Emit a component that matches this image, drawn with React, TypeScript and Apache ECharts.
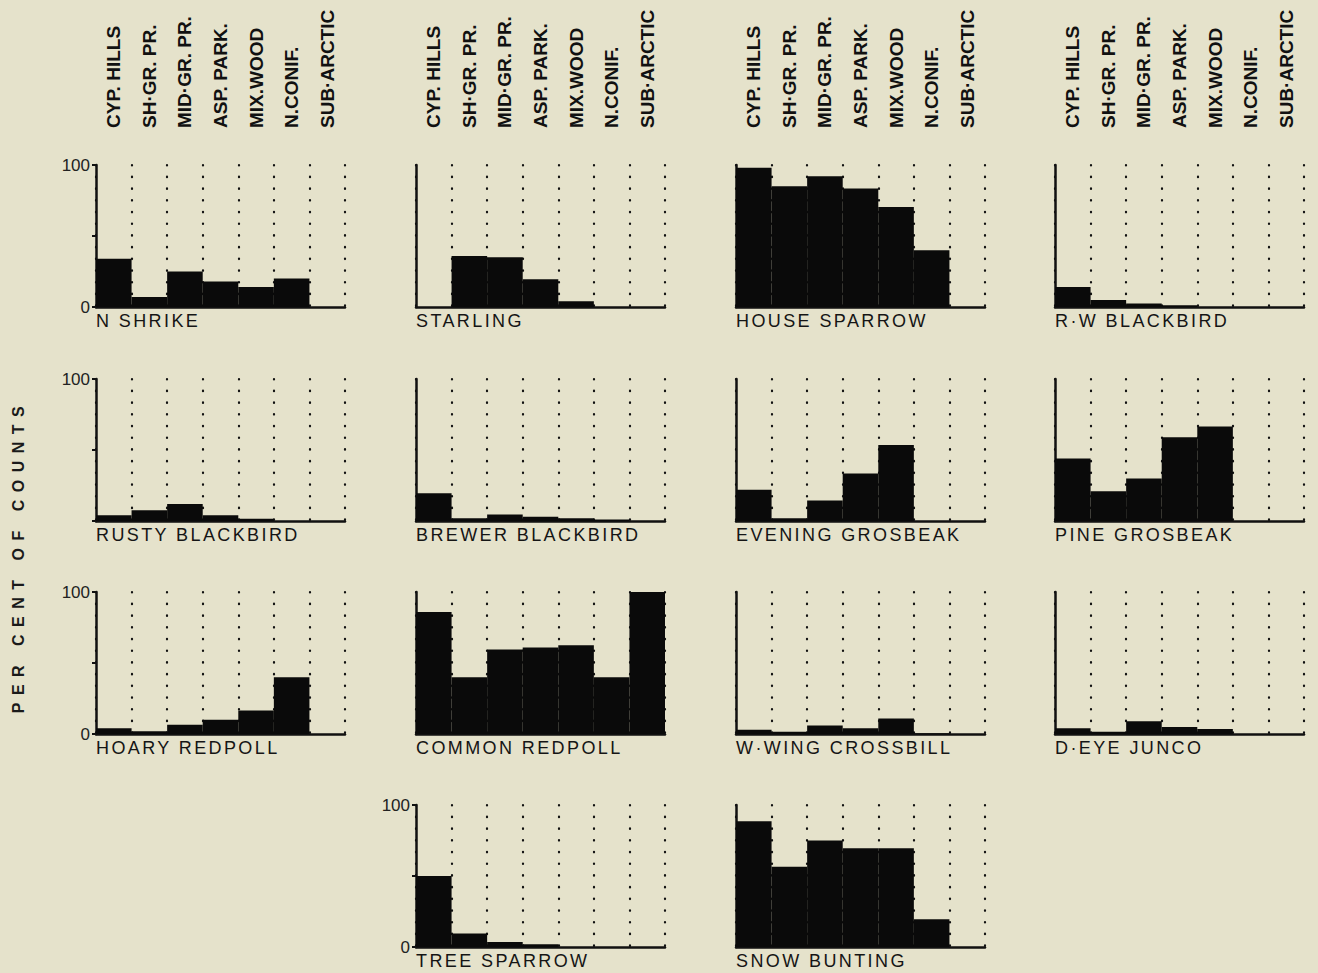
import React, { useEffect, useRef } from "react";
import * as echarts from "echarts";

// ---- data ----
const categories = [
  "CYP. HILLS",
  "SH·GR. PR.",
  "MID·GR. PR.",
  "ASP. PARK.",
  "MIX.WOOD",
  "N.CONIF.",
  "SUB·ARCTIC",
];

const nShrike = [34, 7, 25, 18, 14, 20, 0];
const starling = [0, 36, 35, 19.5, 4, 0, 0];
const houseSparrow = [98, 85, 92, 83.5, 70.5, 40, 0];
const rwBlackbird = [14, 5, 2.5, 1.2, 0, 0, 0];
const rustyBlackbird = [4, 7.5, 12, 4, 1.5, 0, 0];
const brewerBlackbird = [19.5, 2, 4.5, 3, 2, 1, 0];
const eveningGrosbeak = [22, 2, 14.5, 33.5, 53.5, 0, 0];
const pineGrosbeak = [44, 21, 30, 59, 66.5, 0, 0];
const hoaryRedpoll = [4, 2, 6.5, 10, 16.5, 40, 0];
const commonRedpoll = [86, 40, 59.5, 61, 62.5, 40, 100];
const wwCrossbill = [3, 1.5, 6, 4, 11, 0.5, 0];
const deJunco = [4, 1.5, 9, 5, 3.5, 0, 0];
const treeSparrow = [50, 9.5, 3.5, 2, 0, 0, 0];
const snowBunting = [88.5, 56.5, 75, 69.5, 69.5, 19.5, 0];

const speciesNames = [
  "N SHRIKE",
  "STARLING",
  "HOUSE SPARROW",
  "R·W BLACKBIRD",
  "RUSTY BLACKBIRD",
  "BREWER BLACKBIRD",
  "EVENING GROSBEAK",
  "PINE GROSBEAK",
  "HOARY REDPOLL",
  "COMMON REDPOLL",
  "W·WING CROSSBILL",
  "D·EYE JUNCO",
  "TREE SPARROW",
  "SNOW BUNTING",
];

const speciesValues = [
  nShrike, starling, houseSparrow, rwBlackbird,
  rustyBlackbird, brewerBlackbird, eveningGrosbeak, pineGrosbeak,
  hoaryRedpoll, commonRedpoll, wwCrossbill, deJunco,
  treeSparrow, snowBunting,
];

const yTickLabels = ["0", "100"];
const yTitle = "PER CENT OF COUNTS";

// ---- layout ----
const COLS_X = [96, 416, 736, 1055];
const ROWS_Y = [165, 379, 592, 805];
const PANEL_W = 249;
const PANEL_H = 142;
// [row, col, yLabelMode]
const PANEL_POS: [number, number, string][] = [
  [0, 0, "both"], [0, 1, "none"], [0, 2, "none"], [0, 3, "none"],
  [1, 0, "top"], [1, 1, "none"], [1, 2, "none"], [1, 3, "none"],
  [2, 0, "both"], [2, 1, "none"], [2, 2, "none"], [2, 3, "none"],
  [3, 1, "both"], [3, 2, "none"],
];

const FONT = '"Liberation Sans", Arial, Helvetica, sans-serif';
const INK = "#111111";
const BG = "#e5e2cb";

export default function App() {
  const ref = useRef<HTMLDivElement>(null);

  useEffect(() => {
    if (!ref.current) return;
    const chart = echarts.init(ref.current, undefined, { renderer: "svg" });

    const grid: any[] = [];
    const xAxis: any[] = [];
    const yAxis: any[] = [];
    const series: any[] = [];
    const title: any[] = [];

    PANEL_POS.forEach(([r, c, mode], i) => {
      const left = COLS_X[c];
      const top = ROWS_Y[r];
      grid.push({ left, top, width: PANEL_W, height: PANEL_H, containLabel: false });

      const xi = xAxis.length;
      xAxis.push({
        type: "category",
        gridIndex: i,
        data: categories,
        boundaryGap: true,
        position: "bottom",
        axisLine: { show: true, lineStyle: { color: INK, width: 2.5 } },
        axisTick: { show: false },
        axisLabel: { show: false },
        splitLine: {
          show: true,
          interval: 0,
          lineStyle: { color: INK, width: 2.2, type: [0.5, 11.2], cap: "round" },
        },
      });
      if (r === 0) {
        xAxis.push({
          type: "category",
          gridIndex: i,
          data: categories,
          boundaryGap: true,
          position: "top",
          axisLine: { show: false },
          axisTick: { show: false },
          splitLine: { show: false },
          axisLabel: {
            show: true,
            interval: 0,
            rotate: -90,
            margin: 37,
            fontSize: 19,
            fontWeight: "bold",
            color: INK,
            fontFamily: FONT,
          },
        });
      }

      const labeled = mode !== "none";
      yAxis.push({
        type: "value",
        gridIndex: i,
        min: 0,
        max: 100,
        interval: 50,
        axisLine: { show: true, lineStyle: { color: INK, width: 2.5 } },
        axisTick: { show: labeled, length: 4, lineStyle: { color: INK, width: 2 } },
        splitLine: { show: false },
        axisLabel: {
          show: labeled,
          margin: 6,
          fontSize: 17,
          color: "#222",
          fontFamily: FONT,
          formatter: (v: number) => {
            if (v === 100) return yTickLabels[1];
            if (v === 0 && mode === "both") return yTickLabels[0];
            return "";
          },
        },
      });

      series.push({
        type: "bar",
        xAxisIndex: xi,
        yAxisIndex: i,
        data: speciesValues[i],
        barCategoryGap: "0%",
        barWidth: "100%",
        itemStyle: { color: "#0a0a0a" },
        silent: true,
      });

      title.push({
        text: speciesNames[i],
        left,
        top: top + PANEL_H + 5,
        padding: 0,
        textStyle: { fontSize: 18, fontWeight: "normal", color: "#151515", fontFamily: FONT },
      });
    });

    chart.setOption({
      animation: false,
      backgroundColor: BG,
      textStyle: { fontFamily: FONT },
      grid,
      xAxis,
      yAxis,
      series,
      title,
      graphic: [
        {
          type: "text",
          x: 18,
          y: 556,
          rotation: Math.PI / 2,
          style: {
            text: yTitle,
            fontSize: 16,
            fontWeight: "bold",
            fontFamily: FONT,
            fill: "#1a1a1a",
            textAlign: "center",
            textVerticalAlign: "middle",
          },
        },
      ],
    });

    const applySpacing = () => {
      const el = ref.current;
      if (!el) return;
      el.querySelectorAll("text").forEach((t) => {
        const s = (t.textContent || "").trim();
        if (s === yTitle) t.setAttribute("letter-spacing", "7.5");
        else if (speciesNames.includes(s)) t.setAttribute("letter-spacing", "2.4");
      });
    };
    chart.on("finished", applySpacing);
    const timer = setTimeout(applySpacing, 50);

    return () => {
      clearTimeout(timer);
      chart.dispose();
    };
  }, []);

  return (
    <div
      ref={ref}
      style={{ position: "fixed", left: 0, top: 0, width: 1318, height: 973, background: BG }}
    />
  );
}
